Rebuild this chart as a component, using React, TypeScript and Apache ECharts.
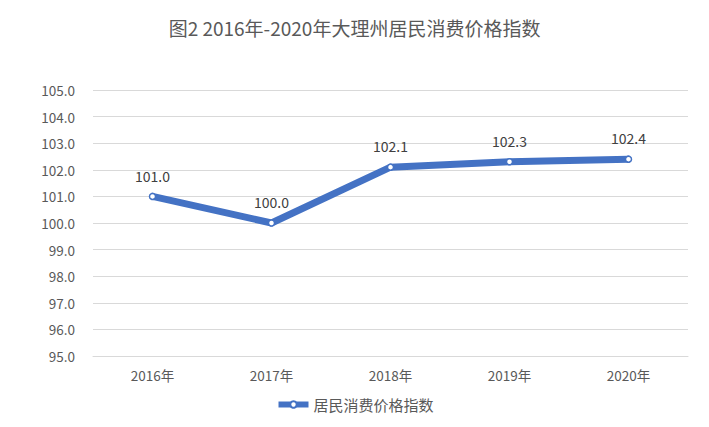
import React, { useEffect, useRef } from "react";
import * as echarts from "echarts";

const categories = ["2016年", "2017年", "2018年", "2019年", "2020年"];
const values = [101.0, 100.0, 102.1, 102.3, 102.4];
const seriesName = "居民消费价格指数";
const titleText = "图2 2016年-2020年大理州居民消费价格指数";

export default function App() {
  const ref = useRef<HTMLDivElement>(null);
  useEffect(() => {
    const chart = echarts.init(ref.current!, null, { renderer: "svg" });
    const font = "'Microsoft YaHei', 'Noto Sans CJK SC', 'Noto Sans', sans-serif";
    chart.setOption({
      animation: false,
      backgroundColor: "#fff",
      textStyle: { fontFamily: font },
      title: {
        text: titleText,
        left: "center",
        top: 13,
        textStyle: { fontSize: 19, fontWeight: "normal", color: "#595959", fontFamily: font },
      },
      legend: {
        bottom: 10,
        left: "center",
        itemWidth: 30,
        itemHeight: 8,
        itemGap: 4,
        lineStyle: { width: 6, color: "#4472C4" },
        textStyle: { fontSize: 15, color: "#595959", fontFamily: font },
        data: [seriesName],
      },
      grid: { left: 93, right: 21, top: 90, bottom: 71 },
      xAxis: {
        type: "category",
        data: categories,
        boundaryGap: true,
        axisLine: { lineStyle: { color: "#d9d9d9" } },
        axisTick: { show: false },
        axisLabel: { color: "#595959", fontSize: 13.5, margin: 12, fontFamily: font },
      },
      yAxis: {
        type: "value",
        min: 95,
        max: 105,
        interval: 1,
        axisLine: { show: false },
        axisTick: { show: false },
        splitLine: { lineStyle: { color: "#d9d9d9" } },
        axisLabel: {
          color: "#595959",
          fontSize: 13.5,
          margin: 18,
          fontFamily: font,
          formatter: (v: number) => v.toFixed(1),
        },
      },
      series: [
        {
          name: seriesName,
          type: "line",
          data: values,
          symbol: "circle",
          symbolSize: 6,
          itemStyle: { color: "#fff", borderColor: "#4472C4", borderWidth: 1.5 },
          lineStyle: { color: "#4472C4", width: 7 },
          label: {
            show: true,
            position: "top",
            distance: 10,
            color: "#404040",
            fontSize: 14,
            fontFamily: font,
            formatter: (p: any) => Number(p.value).toFixed(1),
          },
        },
      ],
    });
    return () => chart.dispose();
  }, []);
  return <div ref={ref} style={{ width: 709, height: 427, margin: -8 }} />;
}
